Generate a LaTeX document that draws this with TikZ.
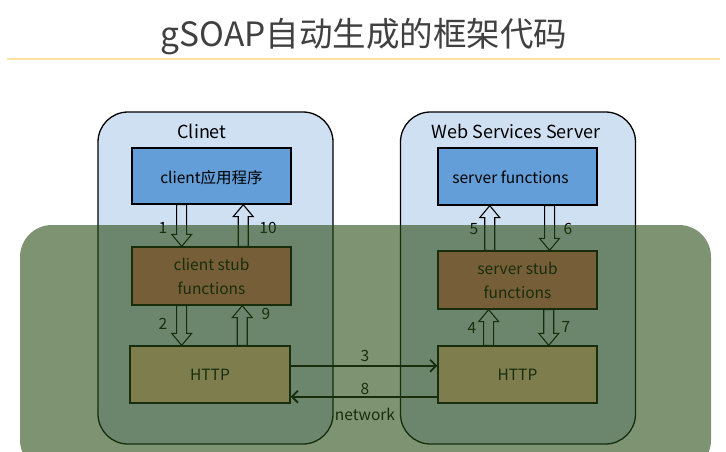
\documentclass[tikz,border=0pt]{standalone}
\usepackage{fontspec}
\setmainfont{Noto Sans CJK SC}
\usetikzlibrary{calc,arrows.meta}
\definecolor{ctnblue}{RGB}{208,224,243}
\definecolor{appblue}{RGB}{99,158,216}
\definecolor{stubcol}{RGB}{235,125,110}
\definecolor{httpcol}{RGB}{255,202,165}
\definecolor{ovl}{RGB}{40,75,20}
\definecolor{titlegray}{RGB}{64,64,64}
\definecolor{rulecol}{RGB}{251,226,160}
\newcommand\vblock[2]{%
  \draw[blockarr] let \p1=(#1), \p2=(#2), \n1={sign(\y2-\y1)} in
    (\x1-5pt,\y1) -- (\x1-5pt,\y2-\n1*12pt) -- (\x1-10pt,\y2-\n1*12pt) -- (\x1,\y2)
    -- (\x1+10pt,\y2-\n1*12pt) -- (\x1+5pt,\y2-\n1*12pt) -- (\x1+5pt,\y1) -- cycle;}
\begin{document}
\begin{tikzpicture}[x=1pt,y=-1pt,
  container/.style={draw=black, line width=1.3pt, fill=ctnblue, rounded corners=30pt, minimum width=235pt, minimum height=332pt, inner sep=0pt},
  appbox/.style={draw=black, line width=1.3pt, fill=appblue, minimum width=159pt, minimum height=56pt, inner sep=0pt, text height=14pt, text depth=0pt, font=\fontsize{15.5}{18}\selectfont},
  stubbox/.style={draw=black, line width=1.3pt, fill=stubcol, minimum width=159pt, minimum height=58pt, inner sep=0pt, align=center, font=\fontsize{15.5}{24}\selectfont},
  httpbox/.style={draw=black, line width=1.3pt, fill=httpcol, minimum width=160pt, minimum height=57pt, inner sep=0pt, font=\fontsize{15.5}{18}\selectfont},
  lbl/.style={inner sep=0pt, font=\fontsize{18}{21}\selectfont},
  num/.style={inner sep=0pt, font=\fontsize{15.5}{18}\selectfont},
  blockarr/.style={draw=black, line width=1.1pt, line join=miter},
  netarr/.style={draw=black, line width=1.8pt, -{Straight Barb[length=6pt,width=12pt]}}
]
\useasboundingbox (0,0) rectangle (726,451);
\fill[white] (0,0) rectangle (726,451);
% title
\node[inner sep=0pt, text=titlegray, font=\fontsize{33.5}{40}\selectfont] (title) at (364,37) {gSOAP自动生成的框架代码};
\coordinate (rl) at (7,59);
\coordinate (rr) at (720,59);
\draw[rulecol, line width=2pt] (rl) -- (rr);
% containers
\node[container] (cl) at (215.5,278) {};
\node[container] (sv) at (518,278) {};
\node[lbl] (cltitle) at (202,131) {Clinet};
\node[lbl] (svtitle) at (516,131) {Web Services Server};
% boxes
\node[appbox] (app) at (211.5,176) {client应用程序};
\node[appbox, minimum height=57pt] (sfun) at (517.5,176.5) {\hspace*{-14pt}server functions};
\node[stubbox] (cstub) at (211.5,276) {client stub\\functions};
\node[stubbox] (sstub) at (517.5,280) {server stub\\functions};
\node[httpbox] (hl) at (210,374.5) {HTTP};
\node[httpbox, minimum width=159pt] (hr) at (517.5,374.5) {HTTP};
% block arrows
\vblock{$(app.south west)!0.314!(app.south east)$}{$(cstub.north west)!0.314!(cstub.north east)$}
\vblock{$(cstub.north west)!0.698!(cstub.north east)$}{$(app.south west)!0.698!(app.south east)$}
\vblock{$(cstub.south west)!0.314!(cstub.south east)$}{$(hl.north west)!0.32!(hl.north east)$}
\vblock{$(hl.north west)!0.7!(hl.north east)$}{$(cstub.south west)!0.698!(cstub.south east)$}
\vblock{$(sstub.north west)!0.327!(sstub.north east)$}{$(sfun.south west)!0.327!(sfun.south east)$}
\vblock{$(sfun.south west)!0.70!(sfun.south east)$}{$(sstub.north west)!0.70!(sstub.north east)$}
\vblock{$(hr.north west)!0.32!(hr.north east)$}{$(sstub.south west)!0.32!(sstub.south east)$}
\vblock{$(sstub.south west)!0.695!(sstub.south east)$}{$(hr.north west)!0.695!(hr.north east)$}
% numbers
\node[num] (n1) at (163,228) {1};
\node[num] (n10) at (268,228) {10};
\node[num] (n2) at (163,324) {2};
\node[num] (n9) at (266,314) {9};
\node[num] (n5) at (474,229) {5};
\node[num] (n6) at (568,229) {6};
\node[num] (n4) at (472,328) {4};
\node[num] (n7) at (566,327) {7};
% network arrows
\draw[netarr] ($(hl.north east)!0.35!(hl.south east)$) -- ($(hr.north west)!0.35!(hr.south west)$);
\draw[netarr] ($(hr.north west)!0.88!(hr.south west)$) -- ($(hl.north east)!0.88!(hl.south east)$);
\node[num] (n3) at (365,356) {3};
\node[num] (n8) at (365,389) {8};
\node[num] (net) at (365,414) {network};
% translucent green overlay
\fill[ovl, fill opacity=0.6, rounded corners=32pt] (20,225) rectangle (711,472);
\end{tikzpicture}
\end{document}
